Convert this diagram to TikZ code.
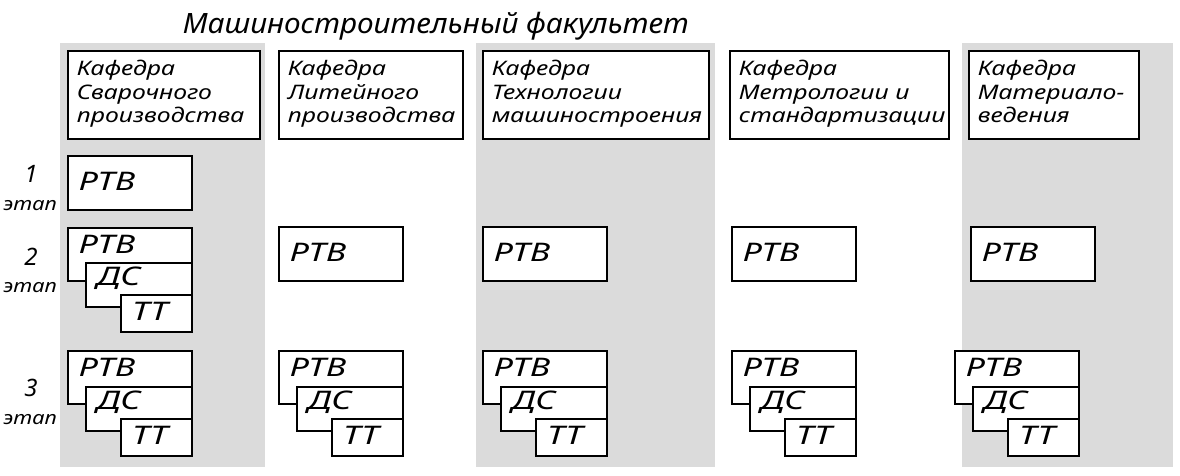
\documentclass[tikz,border=0pt]{standalone}
\usepackage{fontspec}
\setmainfont{Noto Sans}
\newfontfamily\titlefont{Noto Sans}[FakeStretch=1.06]
\newfontfamily\deptfont{Noto Sans}[FakeStretch=1.24]
\newfontfamily\cardfont{Noto Sans}[FakeStretch=1.35]
\newfontfamily\stagefont{Noto Sans}[FakeStretch=1.18]
\usetikzlibrary{positioning}

\def\rtvw{124}

\begin{document}
\begin{tikzpicture}[x=1pt,y=-1pt,line width=1.7pt,font=\itshape]
\tikzstyle{band}=[fill=black!14]
\tikzstyle{dept}=[draw,fill=white,anchor=north west,minimum height=88pt,inner xsep=9pt,inner ysep=0pt,text height=15pt,text depth=53pt,align=left,font=\fontsize{20}{23.5}\deptfont\itshape]
\tikzstyle{card}=[draw,fill=white,anchor=north west,inner xsep=11pt,inner ysep=0pt,text height=18.3pt,font=\fontsize{25.6}{25.6}\cardfont\itshape]
\tikzstyle{rtv}=[card,minimum width=\rtvw pt,text width=102pt,minimum height=54pt,text depth=3pt]
\tikzstyle{rtv top}=[rtv,minimum height=53pt,text depth=20.7pt]
\tikzstyle{ds}=[card,minimum width=106pt,text width=84pt,minimum height=44pt,text depth=17.7pt]
\tikzstyle{tt}=[card,minimum width=71pt,text width=49pt,minimum height=37pt,text depth=4.7pt]
\tikzstyle{stage}=[inner sep=0pt,anchor=base,font=\fontsize{24}{24}\selectfont\itshape]
\tikzstyle{etap}=[inner sep=0pt,anchor=base,font=\fontsize{18.5}{18.5}\stagefont\itshape]

\useasboundingbox (0,0) rectangle (1180,475);

% Grey bands behind every second department
\fill[band] (60,43) rectangle (265,467);
\fill[band] (476,43) rectangle (715,467);
\fill[band] (962,43) rectangle (1173,467);

% Faculty title
\node[inner sep=0pt,anchor=base west,font=\fontsize{28}{28}\titlefont\itshape] (fac) at (182,33) {Машиностроительный факультет};

% Department headers
\node[dept,text width=174pt] (K-1) at (67,50) {Кафедра\\Сварочного\\производства};
\node[dept,text width=166pt] (K-2) at (278,50) {Кафедра\\Литейного\\производства};
\node[dept,text width=208pt] (K-3) at (482,50) {Кафедра\\Технологии\\машиностроения};
\node[dept,text width=201pt] (K-4) at (729,50) {Кафедра\\Метрологии и\\стандартизации};
\node[dept,text width=152pt] (K-5) at (968,50) {Кафедра\\Материало-\\ведения};

% Stage labels
\foreach \name / \y / \z in {1/182/210,2/265/292,3/396/424}
{
\node[stage] (S-\name) at (31,\y) {\name};
\node[etap] (E-\name) at (30,\z) {этап};
}

% Stage 1
\node[rtv] (R1-1) at (67,155) {РТВ};

% Stage 2
\node[rtv top] (R2-1) at (67,227) {РТВ};
\node[ds] (D2-1) at (85,262) {ДС};
\node[tt] (T2-1) at (120,294) {ТТ};
\foreach \name / \x in {2/278,3/482,4/731,5/970}
\node[rtv] (R2-\name) at (\x,226) {РТВ};

% Stage 3: every department
\foreach \name / \x in {1/67,2/278,3/482,4/731,5/954}
{
\node[rtv top] (R3-\name) at (\x,350) {РТВ};
\node[ds] (D3-\name) at (\x+18,386) {ДС};
\node[tt] (T3-\name) at (\x+53,418) {ТТ};
}
\end{tikzpicture}
\end{document}
